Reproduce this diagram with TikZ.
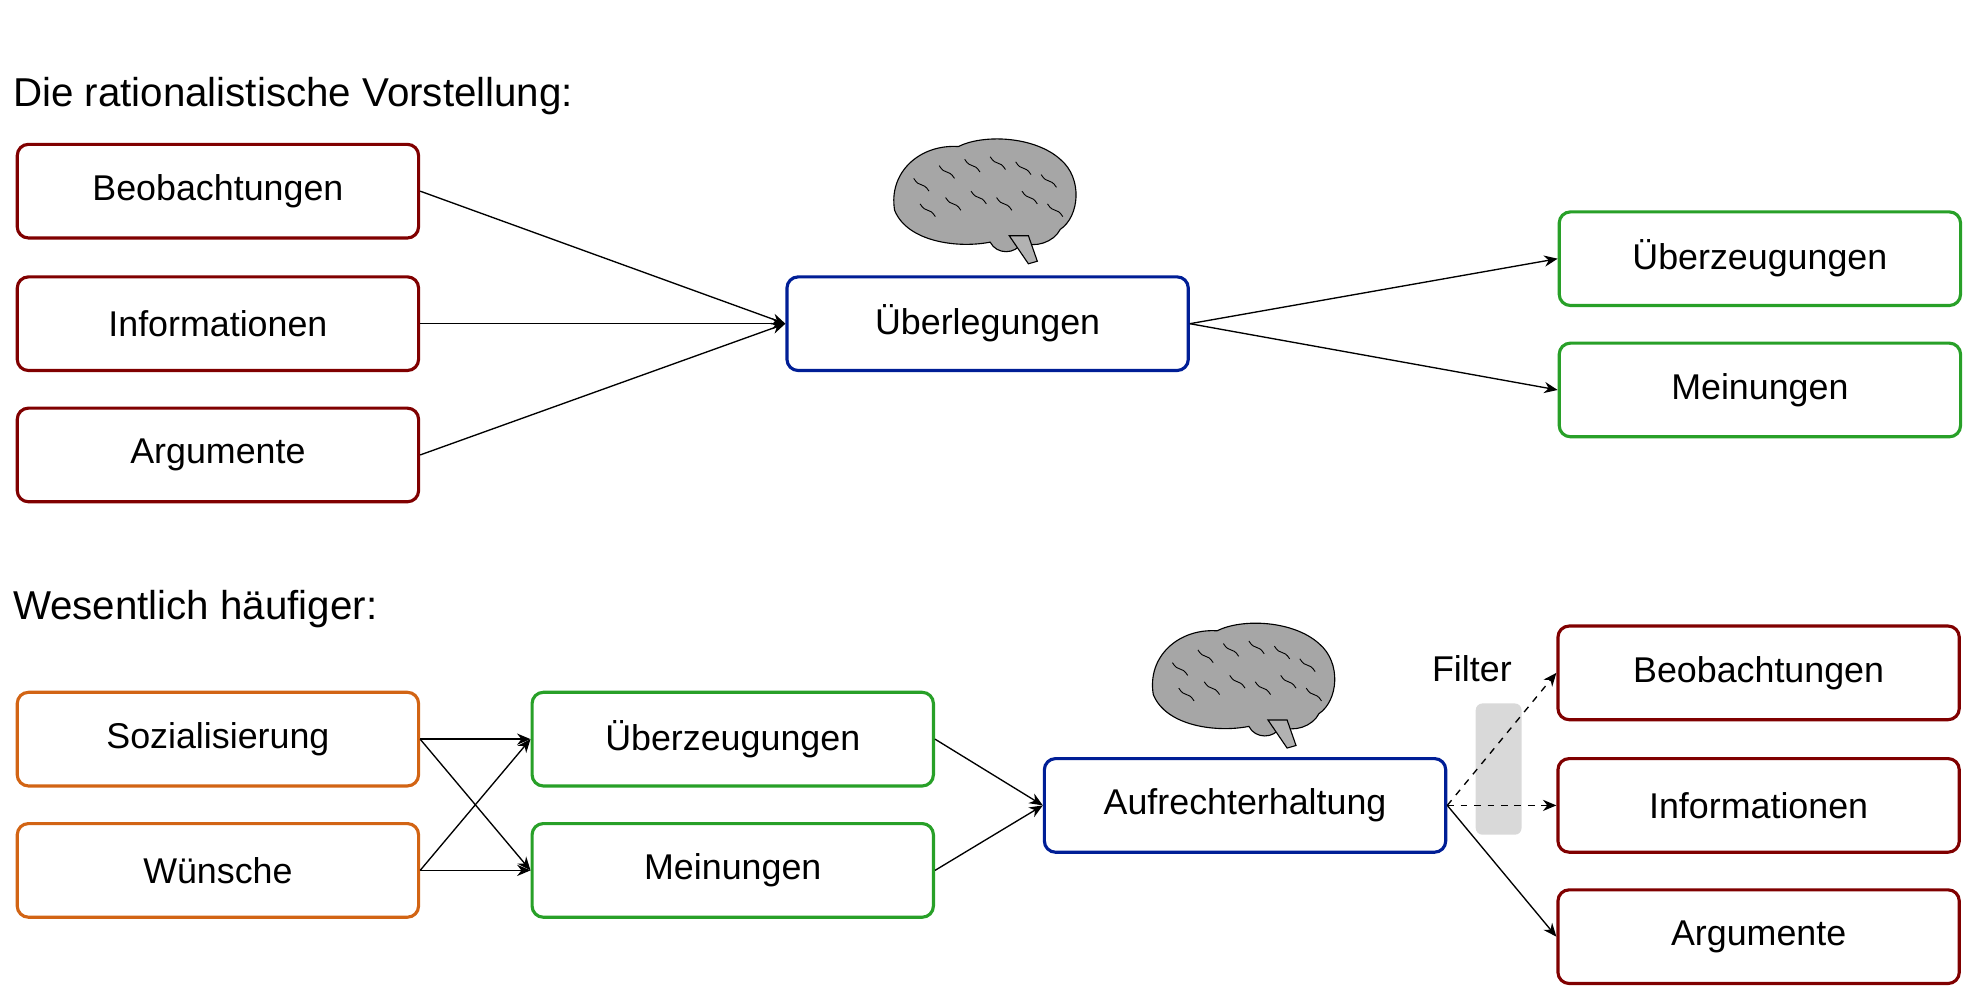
\documentclass[tikz,border=0pt]{standalone}
\usepackage{fontspec}
\setmainfont{Liberation Sans}
\usetikzlibrary{arrows.meta}
\definecolor{cred}{RGB}{128,0,0}
\definecolor{cgreen}{RGB}{40,160,40}
\definecolor{cblue}{RGB}{0,30,150}
\definecolor{corange}{RGB}{210,100,20}
\begin{document}
\begin{tikzpicture}[x=0.02cm,y=-0.02cm,
  box/.style={draw=#1,line width=1.4pt,rounded corners=5pt,minimum width=6.3cm,minimum height=1.47cm,font=\fontsize{16}{19}\selectfont,fill=white},
  arr/.style={-{Stealth[length=6pt,width=5pt]},line width=0.6pt},
  title/.style={anchor=west,font=\fontsize{18}{21}\selectfont},
  brain/.pic={
    \fill[gray!70,draw=black,line width=0.5pt] (-70,10) .. controls (-75,-20) and (-50,-42) .. (-20,-40) .. controls (0,-50) and (40,-48) .. (60,-30) .. controls (78,-15) and (75,15) .. (60,25) .. controls (55,35) and (40,40) .. (30,35) .. controls (25,45) and (10,45) .. (5,35) .. controls (-20,40) and (-60,35) .. (-70,10) -- cycle;
    \fill[gray!60,draw=black,line width=0.5pt] (20,30) -- (35,52) -- (42,50) -- (35,30) -- cycle;
    \foreach \a/\b in {-55/-15,-35/-25,-15/-30,5/-32,25/-28,45/-18,-50/5,-30/0,-10/-5,10/0,30/-5,50/5}
      \draw[black,line width=0.4pt] (\a,\b) .. controls +(5,8) and +(-5,-8) .. +(12,10);
  }]
\useasboundingbox (0,0) rectangle (1560,785);
\node[title] (t1) at (4,75) {Die rationalistische Vorstellung:};
\node[title] (t2) at (4,478) {Wesentlich häufiger:};

\node[box=cred] (b1) at (171,150) {Beobachtungen};
\node[box=cred] (i1) at (171,254) {Informationen};
\node[box=cred] (a1) at (171,357) {Argumente};
\node[box=cblue] (u) at (775,254) {Überlegungen};
\node[box=cgreen] (z1) at (1381,203) {Überzeugungen};
\node[box=cgreen] (m1) at (1381,306) {Meinungen};
\pic at (772,155) {brain};
\draw[arr] (b1.east) -- (u.west);
\draw[arr] (i1.east) -- (u.west);
\draw[arr] (a1.east) -- (u.west);
\draw[arr] (u.east) -- (z1.west);
\draw[arr] (u.east) -- (m1.west);

\node[box=corange] (s) at (171,580) {Sozialisierung};
\node[box=corange] (w) at (171,683) {Wünsche};
\node[box=cgreen] (z2) at (575,580) {Überzeugungen};
\node[box=cgreen] (m2) at (575,683) {Meinungen};
\node[box=cblue] (ah) at (977,632) {Aufrechterhaltung};
\node[box=cred] (b2) at (1380,528) {Beobachtungen};
\node[box=cred] (i2) at (1380,632) {Informationen};
\node[box=cred] (a2) at (1380,735) {Argumente};
\pic at (975,535) {brain};
\draw[arr] (s.east) -- (z2.west);
\draw[arr] (s.east) -- (m2.west);
\draw[arr] (w.east) -- (z2.west);
\draw[arr] (w.east) -- (m2.west);
\draw[arr] (z2.east) -- (ah.west);
\draw[arr] (m2.east) -- (ah.west);
\fill[gray!30,rounded corners=3pt] (1158,552) rectangle (1194,655);
\node[font=\fontsize{16}{19}\selectfont] (f) at (1155,525) {Filter};
\draw[arr,dashed] (ah.east) -- (b2.west);
\draw[arr,dashed] (ah.east) -- (i2.west);
\draw[arr] (ah.east) -- (a2.west);
\end{tikzpicture}
\end{document}
